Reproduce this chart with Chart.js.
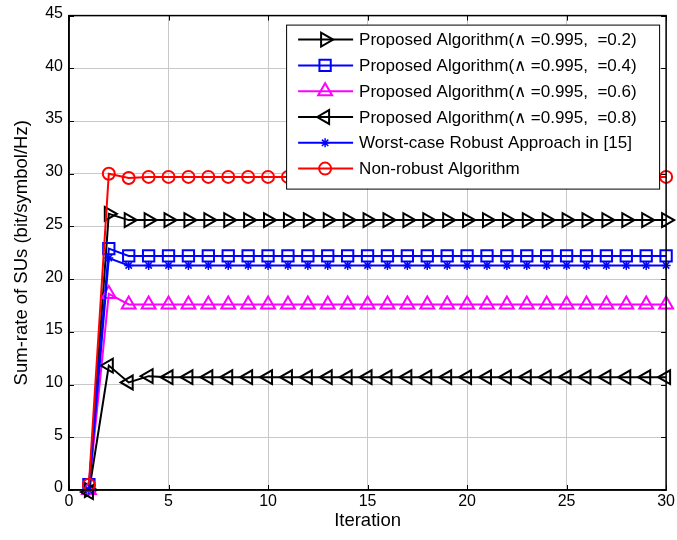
<!DOCTYPE html>
<html>
<head>
<meta charset="utf-8">
<script src="https://cdn.jsdelivr.net/npm/chart.js@4"></script>
<style>body{margin:0;background:#fff}</style>
</head>
<body>
<canvas id="chart" width="677" height="540"></canvas>
<script>
const iterations = [1, 2, 3, 4, 5, 6, 7, 8, 9, 10, 11, 12, 13, 14, 15, 16, 17, 18, 19, 20, 21, 22, 23, 24, 25, 26, 27, 28, 29, 30];

const proposed02 = [0, 26.2, 25.6, 25.6, 25.6, 25.6, 25.6, 25.6, 25.6, 25.6, 25.6, 25.6, 25.6, 25.6, 25.6, 25.6, 25.6, 25.6, 25.6, 25.6, 25.6, 25.6, 25.6, 25.6, 25.6, 25.6, 25.6, 25.6, 25.6, 25.6];
const proposed04 = [0.5, 22.9, 22.2, 22.2, 22.2, 22.2, 22.2, 22.2, 22.2, 22.2, 22.2, 22.2, 22.2, 22.2, 22.2, 22.2, 22.2, 22.2, 22.2, 22.2, 22.2, 22.2, 22.2, 22.2, 22.2, 22.2, 22.2, 22.2, 22.2, 22.2];
const proposed06 = [0, 18.6, 17.6, 17.6, 17.6, 17.6, 17.6, 17.6, 17.6, 17.6, 17.6, 17.6, 17.6, 17.6, 17.6, 17.6, 17.6, 17.6, 17.6, 17.6, 17.6, 17.6, 17.6, 17.6, 17.6, 17.6, 17.6, 17.6, 17.6, 17.6];
const proposed08 = [-0.2, 11.8, 10.2, 10.8, 10.7, 10.7, 10.7, 10.7, 10.7, 10.7, 10.7, 10.7, 10.7, 10.7, 10.7, 10.7, 10.7, 10.7, 10.7, 10.7, 10.7, 10.7, 10.7, 10.7, 10.7, 10.7, 10.7, 10.7, 10.7, 10.7];
const worstCase = [0, 22.0, 21.3, 21.3, 21.3, 21.3, 21.3, 21.3, 21.3, 21.3, 21.3, 21.3, 21.3, 21.3, 21.3, 21.3, 21.3, 21.3, 21.3, 21.3, 21.3, 21.3, 21.3, 21.3, 21.3, 21.3, 21.3, 21.3, 21.3, 21.3];
const nonRobust = [0.5, 30.0, 29.6, 29.7, 29.7, 29.7, 29.7, 29.7, 29.7, 29.7, 29.7, 29.7, 29.7, 29.7, 29.7, 29.7, 29.7, 29.7, 29.7, 29.7, 29.7, 29.7, 29.7, 29.7, 29.7, 29.7, 29.7, 29.7, 29.7, 29.7];

const seriesLabels = [
	"Proposed Algorithm(\u2227 =0.995,  =0.2)",
	"Proposed Algorithm(\u2227 =0.995,  =0.4)",
	"Proposed Algorithm(\u2227 =0.995,  =0.6)",
	"Proposed Algorithm(\u2227 =0.995,  =0.8)",
	"Worst-case Robust Approach in [15]",
	"Non-robust Algorithm"
];

const xTicks = [0, 5, 10, 15, 20, 25, 30];
const yTicks = [0, 5, 10, 15, 20, 25, 30, 35, 40, 45];

const fontFamily = "'Liberation Sans', Arial, Helvetica, sans-serif";

function toPoints(values) {
	return values.map((v, i) => ({x: iterations[i], y: v}));
}

function makeSet(label, values, color, style, radius, rotation, order) {
	return {
		label: label,
		data: toPoints(values),
		borderColor: color,
		backgroundColor: 'rgba(0,0,0,0)',
		borderWidth: 2,
		pointStyle: style,
		pointRadius: radius,
		pointRotation: rotation,
		pointBorderColor: color,
		pointBackgroundColor: style === 'star' ? color : 'rgba(0,0,0,0)',
		pointBorderWidth: style === 'star' ? 1.5 : 2,
		tension: 0,
		clip: false,
		order: order
	};
}

const datasets = [
	makeSet(seriesLabels[0], proposed02, '#000000', 'triangle', 8, 90, 5),
	makeSet(seriesLabels[1], proposed04, '#0000ff', 'rect', 8, 0, 4),
	makeSet(seriesLabels[2], proposed06, '#ff00ff', 'triangle', 8, 0, 3),
	makeSet(seriesLabels[3], proposed08, '#000000', 'triangle', 8, -90, 2),
	makeSet(seriesLabels[4], worstCase, '#0000ff', 'star', 4.5, 0, 1),
	makeSet(seriesLabels[5], nonRobust, '#ff0000', 'circle', 6, 0, 0)
];

// frame, inside ticks and the boxed legend, matlab style
const framePlugin = {
	id: 'frame',
	beforeDraw(chart) {
		let ctx = chart.ctx;
		ctx.save();
		ctx.fillStyle = '#ffffff';
		ctx.fillRect(0, 0, chart.width, chart.height);
		ctx.restore();
	},
	afterDraw(chart) {
		let ctx = chart.ctx;
		let area = chart.chartArea;
		let xs = chart.scales.x;
		let ys = chart.scales.y;
		ctx.save();
		ctx.strokeStyle = '#000000';
		ctx.lineWidth = 1;
		ctx.beginPath();
		xTicks.forEach((t) => {
			let px = Math.round(xs.getPixelForValue(t)) + 0.5;
			ctx.moveTo(px, area.bottom);
			ctx.lineTo(px, area.bottom - 5);
			ctx.moveTo(px, area.top);
			ctx.lineTo(px, area.top + 5);
		});
		yTicks.forEach((t) => {
			let py = Math.round(ys.getPixelForValue(t)) + 0.5;
			ctx.moveTo(area.left, py);
			ctx.lineTo(area.left + 5, py);
			ctx.moveTo(area.right, py);
			ctx.lineTo(area.right - 5, py);
		});
		ctx.stroke();
		ctx.lineWidth = 1.5;
		ctx.strokeRect(area.left, area.top, area.right - area.left, area.bottom - area.top);

		// legend box
		let boxW = 373, boxH = 164;
		let bx = area.right - 7 - boxW;
		let by = area.top + 9;
		ctx.fillStyle = '#ffffff';
		ctx.fillRect(bx, by, boxW, boxH);
		ctx.lineWidth = 1;
		ctx.strokeStyle = '#000000';
		ctx.strokeRect(bx + 0.5, by + 0.5, boxW, boxH);

		ctx.font = '17px ' + fontFamily;
		ctx.textBaseline = 'middle';
		ctx.textAlign = 'left';
		chart.data.datasets.forEach((ds, i) => {
			let ry = by + 15 + i * 25.8;
			ctx.strokeStyle = ds.borderColor;
			ctx.lineWidth = 2;
			ctx.beginPath();
			ctx.moveTo(bx + 12, ry);
			ctx.lineTo(bx + 67, ry);
			ctx.stroke();
			ctx.fillStyle = ds.pointBackgroundColor;
			ctx.strokeStyle = ds.borderColor;
			ctx.lineWidth = ds.pointBorderWidth;
			Chart.helpers.drawPoint(ctx, {
				pointStyle: ds.pointStyle,
				radius: ds.pointRadius,
				rotation: ds.pointRotation,
				borderWidth: ds.pointBorderWidth
			}, bx + 39, ry);
			ctx.fillStyle = '#000000';
			ctx.fillText(ds.label, bx + 73, ry + 1);
		});
		ctx.restore();
	}
};

new Chart(
	document.getElementById('chart'), {
		type: 'line',
		data: {datasets: datasets},
		options: {
			responsive: false,
			animation: false,
			devicePixelRatio: 1,
			layout: {padding: {left: 0, right: 9, top: 15, bottom: 0}},
			plugins: {
				legend: {display: false},
				tooltip: {enabled: false}
			},
			scales: {
				x: {
					type: 'linear',
					min: 0,
					max: 30,
					afterFit: (s) => { s.height = 50; },
					afterBuildTicks: (s) => { s.ticks = xTicks.map(v => ({value: v})); },
					ticks: {
						color: '#000000',
						font: {family: fontFamily, size: 16},
						padding: 2,
						maxRotation: 0
					},
					grid: {color: '#c8c8c8', lineWidth: 1, drawTicks: false},
					border: {display: true, color: '#000000', width: 1.5},
					title: {
						display: true,
						text: 'Iteration',
						color: '#000000',
						font: {family: fontFamily, size: 18.5},
						padding: {top: 0, bottom: 8}
					}
				},
				y: {
					type: 'linear',
					min: 0,
					max: 45,
					afterFit: (s) => { s.width = 69; },
					afterBuildTicks: (s) => { s.ticks = yTicks.map(v => ({value: v})); },
					ticks: {
						color: '#000000',
						font: {family: fontFamily, size: 16},
						padding: 6,
						labelOffset: -2
					},
					grid: {color: '#c8c8c8', lineWidth: 1, drawTicks: false},
					border: {display: true, color: '#000000', width: 1.5},
					title: {
						display: true,
						text: 'Sum-rate of SUs (bit/symbol/Hz)',
						color: '#000000',
						font: {family: fontFamily, size: 18.5},
						padding: {top: 11, bottom: 0}
					}
				}
			}
		},
		plugins: [framePlugin]
	}
);
</script>
</body>
</html>
